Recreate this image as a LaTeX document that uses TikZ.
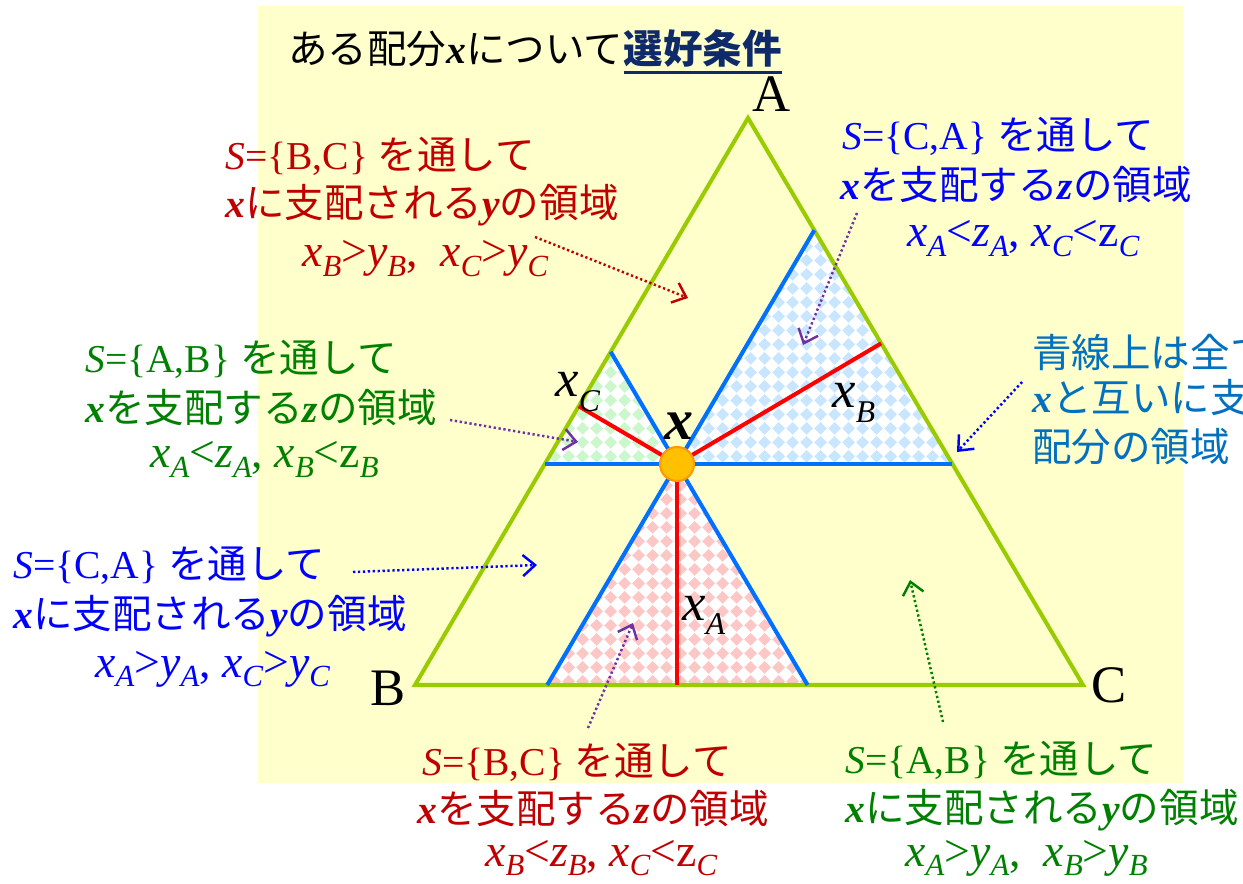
\documentclass[tikz,border=0pt]{standalone}
\usepackage{fontspec}
\usepackage{graphicx}
\setmainfont{Liberation Serif}
\newfontfamily\jp{Noto Sans CJK JP}
\usetikzlibrary{calc,arrows.meta,patterns.meta}
\definecolor{bgyellow}{HTML}{FFFFCC}
\definecolor{trigreen}{HTML}{99CC00}
\definecolor{lineblue}{HTML}{0070FF}
\definecolor{pinkd}{HTML}{FFC6C6}
\definecolor{blued}{HTML}{C8E6FF}
\definecolor{greend}{HTML}{CCF7CC}
\definecolor{dred}{HTML}{C00000}
\definecolor{tblue}{HTML}{0000FF}
\definecolor{tgreen}{HTML}{008000}
\definecolor{rblue}{HTML}{0070C0}
\definecolor{purp}{HTML}{7030A0}
\definecolor{navy}{HTML}{0F2A6B}
\definecolor{dotfill}{HTML}{FFC000}
\definecolor{dotedge}{HTML}{FF9900}
\newcommand\J[1]{{\jp #1}}
\newcommand\bx{\textbf{\textit{x}}}
\newcommand\by{\textbf{\textit{y}}}
\newcommand\bz{\textbf{\textit{z}}}
\newcommand\ix{\textit{x}}
\newcommand\iy{\textit{y}}
\newcommand\iz{\textit{z}}
\newcommand\sbs[1]{\raisebox{-5.5pt}{\fontsize{17.5pt}{17.5pt}\selectfont\textit{#1}}}
\newcommand\sbl[1]{\raisebox{-8pt}{\fontsize{18pt}{18pt}\selectfont\textit{#1}}}
\newcommand\lab{\fontsize{22.5pt}{27pt}\selectfont}
\newcommand\mlab{\fontsize{26pt}{30pt}\selectfont}
\tikzdeclarepattern{
  name=diam,
  type=uncolored,
  bottom left={(0pt,0pt)},
  top right={(8pt,8pt)},
  tile size={(8pt,8pt)},
  code={\fill (4pt,0.1pt) -- (7.9pt,4pt) -- (4pt,7.9pt) -- (0.1pt,4pt) -- cycle;}
}
\tikzset{
  tri/.style={draw=trigreen, line width=2.3pt, line join=miter},
  bl/.style={draw=lineblue, line width=2.3pt},
  rl/.style={draw=red, line width=2.3pt},
  dotarrow/.style={line width=1.4pt, dash pattern=on 1.3pt off 1.5pt, -{Straight Barb[length=7pt,width=12pt]}},
  txt/.style={anchor=base west, inner sep=0pt, font=\lab},
  mth/.style={anchor=base west, inner sep=0pt, font=\mlab},
  vtx/.style={anchor=base, inner sep=0pt, font=\fontsize{30pt}{32pt}\selectfont},
  xlab/.style={anchor=base west, inner sep=0pt, font=\fontsize{30pt}{32pt}\selectfont},
}
\begin{document}
\begin{tikzpicture}[x=0.02cm,y=-0.02cm]
\useasboundingbox (0,0) rectangle (1243,884);
\clip (0,0) rectangle (1243,884);
\fill[white] (0,0) rectangle (1243,884);
\fill[bgyellow] (258,6) rectangle (1183,783);

% geometry
\coordinate (A) at (748,118);
\coordinate (B) at (415,685);
\coordinate (C) at (1083,685);
\coordinate (X) at (677,464);
\coordinate (Hab) at (544.8,464);
\coordinate (Hac) at (952.4,464);
\coordinate (Pac) at (814.3,230.2);
\coordinate (Pbc1) at (547.2,685);
\coordinate (Pab) at (610.7,351.8);
\coordinate (Pbc2) at (807.6,685);
\coordinate (Fa) at ($(B)!(X)!(C)$);
\coordinate (Fb) at ($(A)!(X)!(C)$);
\coordinate (Fc) at ($(A)!(X)!(B)$);

% shaded regions
\fill[white] (X) -- (Pbc1) -- (Pbc2) -- cycle;
\fill[pattern=diam, pattern color=pinkd] (X) -- (Pbc1) -- (Pbc2) -- cycle;
\fill[white] (X) -- (Pac) -- (Hac) -- cycle;
\fill[pattern=diam, pattern color=blued] (X) -- (Pac) -- (Hac) -- cycle;
\fill[white] (X) -- (Pab) -- (Hab) -- cycle;
\fill[pattern=diam, pattern color=greend] (X) -- (Pab) -- (Hab) -- cycle;

% triangle
\draw[tri] (A) -- (B) -- (C) -- cycle;

% blue lines
\draw[bl] (Hab) -- (Hac);
\draw[bl] (Pab) -- (Pbc2);
\draw[bl] (Pac) -- (Pbc1);

% red lines
\draw[rl] (X) -- (Fa);
\draw[rl] (X) -- (Fb);
\draw[rl] (X) -- (Fc);

% point x
\node (dot) [circle, minimum size=0.68cm, inner sep=0pt, fill=dotfill, draw=dotedge, line width=1.2pt] at (X) {};
\node (xl) [anchor=base, inner sep=0pt, font=\fontsize{33pt}{35pt}\selectfont] at (679,440) {\bx};

% vertex labels
\node (lA) [vtx] at (772,112) {A};
\node (lB) [vtx] at (388,705) {B};
\node (lC) [vtx] at (1109,702) {C};

% x_A, x_B, x_C
\node (xA) [xlab] at (682,620) {\ix\sbl{A}};
\node (xB) [xlab] at (832,408) {\ix\sbl{B}};
\node (xC) [xlab] at (555,397) {\ix\sbl{C}};

% title
\node (t1) [txt] at (288,64) {\J{ある配分}\bx\J{について}};
\node (t2) [txt, text=navy] at (t1.base east) {\J{\bfseries 選好条件}};
\draw[navy, line width=1.4pt] ([yshift=-2.5pt]t2.south west) -- ([yshift=-2.5pt]t2.south east);

% red top block
\begin{scope}[every node/.append style={text=dred}]
\node (r1) [txt] at (225,170) {\textit{S}=\{B,C\} \J{を通して}};
\node (r2) [txt] at (225,218) {\bx\J{に支配される}\by\J{の領域}};
\node (r3) [mth] at (302,267) {\ix\sbs{B}>\iy\sbs{B}, \ \ix\sbs{C}>\iy\sbs{C}};
\end{scope}
\coordinate (ra0) at (535,237);
\coordinate (ra1) at (688,298);
\draw[dotarrow, dred] (ra0) -- (ra1);

% blue top-right block
\begin{scope}[every node/.append style={text=tblue}]
\node (b1) [txt] at (842,150) {\textit{S}=\{C,A\} \J{を通して}};
\node (b2) [txt] at (840,200) {\bx\J{を支配する}\bz\J{の領域}};
\node (b3) [mth] at (907,247) {\ix\sbs{A}<\iz\sbs{A}, \ix\sbs{C}<z\sbs{C}};
\end{scope}
\coordinate (ba0) at (857,213);
\coordinate (ba1) at (803,345);
\draw[dotarrow, purp] (ba0) -- (ba1);

% right block (cut off at the picture's edge, as in the reference)
\begin{scope}[every node/.append style={text=rblue}]
\node (c1) [txt] at (1032,368) {\J{青線上は全て}};
\node (c2) [txt] at (1032,413) {\bx\J{と互いに支配しない}};
\node (c3) [txt] at (1032,462) {\J{配分の領域}};
\end{scope}
\coordinate (ca0) at (1022,382);
\coordinate (ca1) at (957,452);
\draw[dotarrow, tblue] (ca0) -- (ca1);

% green left block
\begin{scope}[every node/.append style={text=tgreen}]
\node (g1) [txt] at (85,373) {\textit{S}=\{A,B\} \J{を通して}};
\node (g2) [txt] at (85,423) {\bx\J{を支配する}\bz\J{の領域}};
\node (g3) [mth] at (150,468) {\ix\sbs{A}<\iz\sbs{A}, \ix\sbs{B}<z\sbs{B}};
\end{scope}
\coordinate (ga0) at (450,420);
\coordinate (ga1) at (578,442);
\draw[dotarrow, purp] (ga0) -- (ga1);

% blue left block
\begin{scope}[every node/.append style={text=tblue}]
\node (l1) [txt] at (13,578) {\textit{S}=\{C,A\} \J{を通して}};
\node (l2) [txt] at (13,628) {\bx\J{に支配される}\by\J{の領域}};
\node (l3) [mth] at (95,677) {\ix\sbs{A}>\iy\sbs{A}, \ix\sbs{C}>\iy\sbs{C}};
\end{scope}
\coordinate (la0) at (353,572);
\coordinate (la1) at (537,565);
\draw[dotarrow, tblue] (la0) -- (la1);

% red bottom block
\begin{scope}[every node/.append style={text=dred}]
\node (d1) [txt] at (422,775) {\textit{S}=\{B,C\} \J{を通して}};
\node (d2) [txt] at (417,823) {\bx\J{を支配する}\bz\J{の領域}};
\node (d3) [mth] at (485,866) {\ix\sbs{B}<\iz\sbs{B}, \ix\sbs{C}<z\sbs{C}};
\end{scope}
\coordinate (da0) at (588,728);
\coordinate (da1) at (633,623);
\draw[dotarrow, purp] (da0) -- (da1);

% green bottom block
\begin{scope}[every node/.append style={text=tgreen}]
\node (e1) [txt] at (845,773) {\textit{S}=\{A,B\} \J{を通して}};
\node (e2) [txt] at (845,822) {\bx\J{に支配される}\by\J{の領域}};
\node (e3) [mth] at (905,866) {\ix\sbs{A}>\iy\sbs{A}, \ \ix\sbs{B}>\iy\sbs{B}};
\end{scope}
\coordinate (ea0) at (943,722);
\coordinate (ea1) at (910,580);
\draw[dotarrow, tgreen] (ea0) -- (ea1);
\end{tikzpicture}
\end{document}
